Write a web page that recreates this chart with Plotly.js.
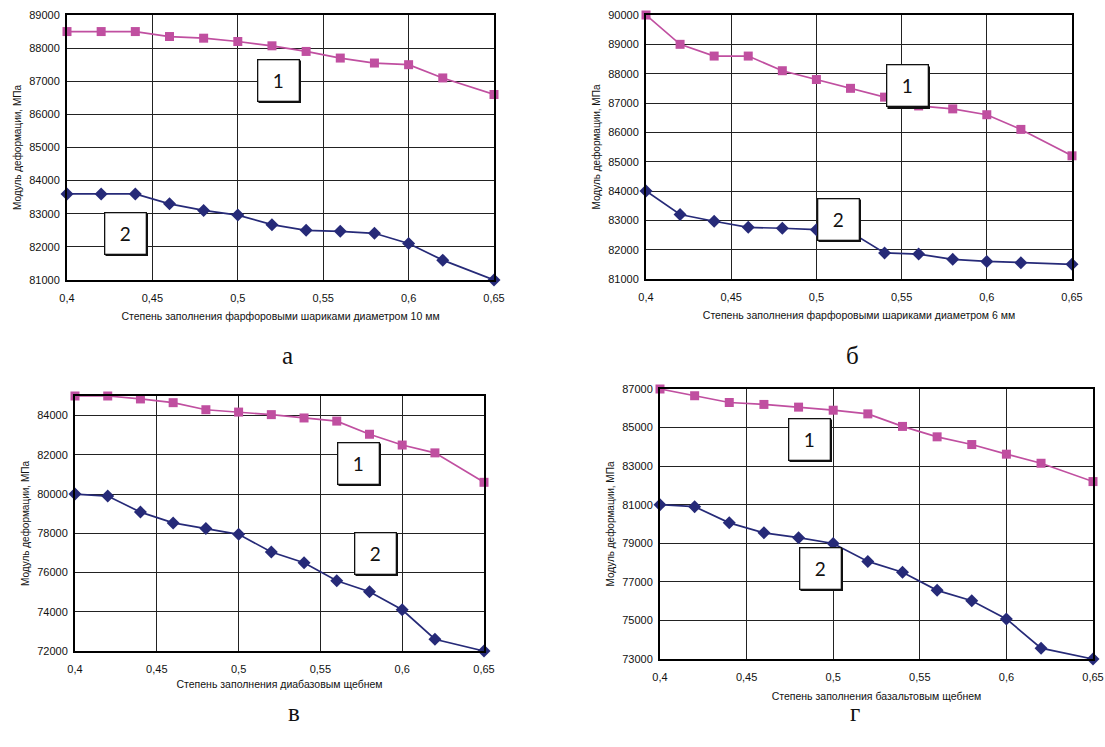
<!DOCTYPE html>
<html>
<head>
<meta charset="utf-8">
<script src="https://cdn.plot.ly/plotly-3.0.1.min.js"></script>
<style>
  html, body { margin: 0; padding: 0; background: #ffffff; }
  #chart { width: 1105px; height: 747px; }
</style>
</head>
<body>
<div id="chart"></div>
<script>
// ---------- DATA ----------
const fill = [0.40, 0.42, 0.44, 0.46, 0.48, 0.50, 0.52, 0.54, 0.56, 0.58, 0.60, 0.62, 0.65];

// а — фарфоровые шарики 10 мм
const a_s1 = [88500, 88500, 88500, 88350, 88300, 88200, 88070, 87900, 87700, 87550, 87500, 87100, 86600];
const a_s2 = [83600, 83600, 83600, 83300, 83100, 82960, 82670, 82500, 82470, 82410, 82100, 81600, 81000];

// б — фарфоровые шарики 6 мм
const b_s1 = [90000, 89000, 88600, 88600, 88100, 87800, 87500, 87200, 86900, 86800, 86600, 86100, 85200];
const b_s2 = [84000, 83200, 82970, 82760, 82730, 82680, 82600, 81890, 81850, 81670, 81600, 81550, 81500];

// в — диабазовый щебень
const c_s1 = [85000, 85000, 84850, 84660, 84300, 84180, 84050, 83880, 83720, 83050, 82500, 82100, 80600];
const c_s2 = [80000, 79900, 79080, 78530, 78240, 77950, 77050, 76500, 75580, 75020, 74100, 72600, 72000];

// г — базальтовый щебень
const d_s1 = [87000, 86650, 86300, 86200, 86060, 85900, 85710, 85060, 84520, 84120, 83620, 83150, 82200];
const d_s2 = [81000, 80900, 80060, 79540, 79290, 78990, 78060, 77500, 76560, 76020, 75080, 73560, 73000];

const xTickVals = [0.40, 0.45, 0.50, 0.55, 0.60, 0.65];
const xTickText = ["0,4", "0,45", "0,5", "0,55", "0,6", "0,65"];

const a_yTicks = [81000, 82000, 83000, 84000, 85000, 86000, 87000, 88000, 89000];
const b_yTicks = [81000, 82000, 83000, 84000, 85000, 86000, 87000, 88000, 89000, 90000];
const c_yTicks = [72000, 74000, 76000, 78000, 80000, 82000, 84000];
const d_yTicks = [73000, 75000, 77000, 79000, 81000, 83000, 85000, 87000];

const yTitle = "Модуль деформации, МПа";
const xTitles = [
  "Степень заполнения фарфоровыми шариками диаметром 10 мм",
  "Степень заполнения фарфоровыми шариками диаметром 6 мм",
  "Степень заполнения диабазовым щебнем",
  "Степень заполнения базальтовым щебнем"
];
const panelLetters = ["а", "б", "в", "г"];
const seriesLabels = ["1", "2"];

// ---------- LAYOUT HELPERS ----------
const W = 1105, H = 747;
const px = v => v / W;
const py = v => 1 - v / H;

const panels = [
  { l: 67,  r: 494,  t: 15,  b: 280, yr: [81000, 89000], yt: a_yTicks, s1: a_s1, s2: a_s2,
    xs: 9, letter: [287, 355], boxes: [[278, 80], [125, 233]] },
  { l: 646, r: 1072, t: 15,  b: 279, yr: [81000, 90000], yt: b_yTicks, s1: b_s1, s2: b_s2,
    xs: 9, letter: [852, 355], boxes: [[907, 86], [838, 219]] },
  { l: 75,  r: 484,  t: 396, b: 651, yr: [72000, 85000], yt: c_yTicks, s1: c_s1, s2: c_s2,
    xs: 6, letter: [294, 712], boxes: [[358, 463], [375, 553]] },
  { l: 660, r: 1093, t: 389, b: 659, yr: [73000, 87000], yt: d_yTicks, s1: d_s1, s2: d_s2,
    xs: 10, letter: [855, 712], boxes: [[809, 439], [820, 568]] }
];

const PINK = "#c04fa0";
const NAVY = "#262a78";
const FONT = "Liberation Sans, Arial, sans-serif";

const traces = [];
const layout = {
  width: W, height: H,
  margin: { l: 0, r: 0, t: 0, b: 0 },
  paper_bgcolor: "#ffffff",
  plot_bgcolor: "#ffffff",
  showlegend: false,
  font: { family: FONT, size: 11, color: "#111" },
  annotations: [],
  shapes: []
};

panels.forEach((p, i) => {
  const n = i === 0 ? "" : String(i + 1);
  const xa = "x" + n, ya = "y" + n;
  traces.push({
    type: "scatter", mode: "lines+markers", x: fill, y: p.s1,
    xaxis: xa, yaxis: ya, cliponaxis: false,
    line: { color: PINK, width: 1.7 },
    marker: { symbol: "square", size: 9, color: PINK }
  });
  traces.push({
    type: "scatter", mode: "lines+markers", x: fill, y: p.s2,
    xaxis: xa, yaxis: ya, cliponaxis: false,
    line: { color: NAVY, width: 1.7 },
    marker: { symbol: "diamond", size: 10, color: NAVY }
  });
  layout["xaxis" + n] = {
    domain: [px(p.l), px(p.r)], anchor: ya,
    range: [0.4, 0.65], tickvals: xTickVals, ticktext: xTickText,
    showgrid: true, gridcolor: "#222", gridwidth: 1,
    showline: true, linecolor: "#000", linewidth: 2, mirror: true,
    zeroline: false, ticks: "", ticklabelstandoff: 7,
    tickfont: { family: FONT, size: 11, color: "#111" },
    title: { text: xTitles[i], font: { family: FONT, size: 10.5, color: "#111" }, standoff: p.xs }
  };
  layout["yaxis" + n] = {
    domain: [py(p.b), py(p.t)], anchor: xa,
    range: p.yr, tickvals: p.yt, tickformat: "d",
    showgrid: true, gridcolor: "#222", gridwidth: 1,
    showline: true, linecolor: "#000", linewidth: 2, mirror: true,
    zeroline: false, ticks: "", ticklabelstandoff: 3,
    tickfont: { family: FONT, size: 11, color: "#111" },
    title: { text: yTitle, font: { family: FONT, size: 10, color: "#111" }, standoff: 6 }
  };
  // panel letter
  layout.annotations.push({
    xref: "paper", yref: "paper", x: px(p.letter[0]), y: py(p.letter[1]),
    xanchor: "center", yanchor: "middle", showarrow: false,
    text: panelLetters[i],
    font: { family: "Liberation Serif, Times New Roman, serif", size: 25, color: "#111" }
  });
  // numbered boxes
  p.boxes.forEach((bx, k) => {
    const half = 21.5;
    layout.shapes.push({
      type: "rect", xref: "paper", yref: "paper", layer: "above",
      x0: px(bx[0] - half + 2), x1: px(bx[0] + half + 1.5),
      y0: py(bx[1] + half + 1.5), y1: py(bx[1] - half + 2),
      fillcolor: "#111", line: { width: 0 }
    });
    layout.annotations.push({
      xref: "paper", yref: "paper", x: px(bx[0]), y: py(bx[1]),
      xanchor: "center", yanchor: "middle", showarrow: false,
      text: seriesLabels[k], width: 40, height: 40, borderpad: 0,
      bgcolor: "#ffffff", bordercolor: "#111", borderwidth: 1.3,
      font: { family: "Lato, Liberation Sans, sans-serif", size: 19, color: "#111" }
    });
  });
});

Plotly.newPlot("chart", traces, layout, { staticPlot: true, displayModeBar: false });
</script>
</body>
</html>
